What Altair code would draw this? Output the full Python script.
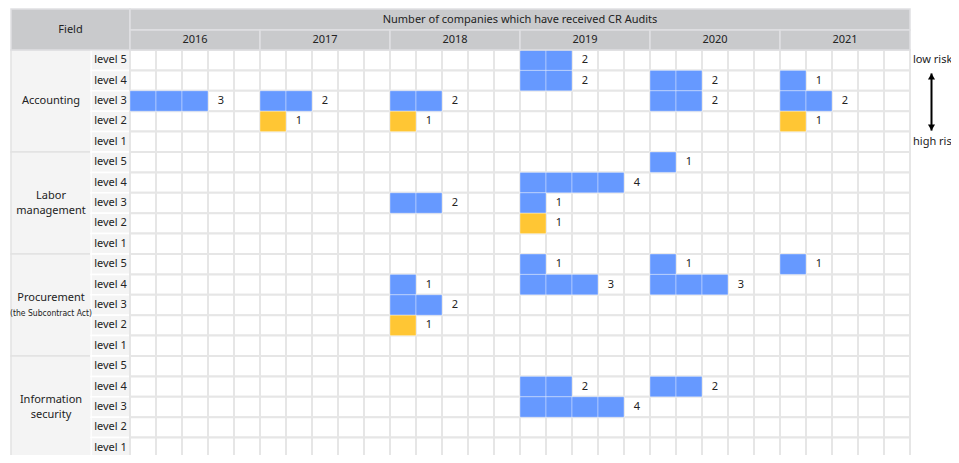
import altair as alt
import pandas as pd

# ---------------- data ----------------
YEARS = ["2016", "2017", "2018", "2019", "2020", "2021"]
LEVELS = ["level 5", "level 4", "level 3", "level 2", "level 1"]
FIELD_LINES = [
    ["Accounting"],
    ["Labor", "management"],
    ["Procurement", "(the Subcontract Act)"],
    ["Information", "security"],
]
HEADER_TITLE = "Number of companies which have received CR Audits"
FIELD_HEADER = "Field"
RISK_LABELS = ["low risk", "high risuk"]

# counts per level (rows: level 5 .. level 1) and year (cols: 2016 .. 2021)
ACCOUNTING = [
    [0, 0, 0, 2, 0, 0],
    [0, 0, 0, 2, 2, 1],
    [3, 2, 2, 0, 2, 2],
    [0, 1, 1, 0, 0, 1],
    [0, 0, 0, 0, 0, 0],
]
LABOR = [
    [0, 0, 0, 0, 1, 0],
    [0, 0, 0, 4, 0, 0],
    [0, 0, 2, 1, 0, 0],
    [0, 0, 0, 1, 0, 0],
    [0, 0, 0, 0, 0, 0],
]
PROCUREMENT = [
    [0, 0, 0, 1, 1, 1],
    [0, 0, 1, 3, 3, 0],
    [0, 0, 2, 0, 0, 0],
    [0, 0, 1, 0, 0, 0],
    [0, 0, 0, 0, 0, 0],
]
INFOSEC = [
    [0, 0, 0, 0, 0, 0],
    [0, 0, 0, 2, 2, 0],
    [0, 0, 0, 4, 0, 0],
    [0, 0, 0, 0, 0, 0],
    [0, 0, 0, 0, 0, 0],
]
FIELD_COUNTS = [ACCOUNTING, LABOR, PROCUREMENT, INFOSEC]

# ---------------- layout ----------------
SLOTS = 5                 # cells per year
COL_PX, ROW_PX = 26.0, 20.4
GRID_LEFT, GRID_TOP = 130.0, 50.0  # page px of grid origin
W, H = 943, 447
X_DOMAIN = [(8 - GRID_LEFT) / COL_PX, (8 + W - GRID_LEFT) / COL_PX]
Y_DOMAIN = [(8 - GRID_TOP) / ROW_PX, (8 + H - GRID_TOP) / ROW_PX]
FIELD_X0 = (11 - GRID_LEFT) / COL_PX
FIELD_X1 = -1.5
HEADER_TOP = (9 - GRID_TOP) / ROW_PX
HEADER_MID = (30 - GRID_TOP) / ROW_PX
NCOLS = SLOTS * len(YEARS)
NROWS = len(LEVELS) * len(FIELD_LINES)
LINE_GAP = 15.0 / ROW_PX
RISK_X = (913 - GRID_LEFT) / COL_PX
ARROW_X = (931.5 - GRID_LEFT) / COL_PX

BLUE, YELLOW = "#6699ff", "#ffc634"
HEAD_BG, SIDE_BG, GRID_LINE = "#c9cacc", "#f4f4f4", "#e6e6e6"
FONT = "Noto Sans"
SMALL_FONT = "DejaVu Sans Condensed, Liberation Sans Narrow, Noto Sans"
TXT = "#222222"

xs = alt.Scale(domain=X_DOMAIN, nice=False, zero=False)
ys = alt.Scale(domain=Y_DOMAIN, nice=False, zero=False, reverse=True)


def X(f):
    return alt.X(f, type="quantitative", scale=xs, axis=None)


def Y(f):
    return alt.Y(f, type="quantitative", scale=ys, axis=None)


def rect_enc():
    return dict(x=X("x"), x2=alt.X2("x2"), y=Y("y"), y2=alt.Y2("y2"))


# grid cells
grid_df = pd.DataFrame([
    dict(x=c, x2=c + 1, y=r, y2=r + 1) for r in range(NROWS) for c in range(NCOLS)
])

# field background blocks
field_bg = pd.DataFrame([
    dict(x=FIELD_X0, x2=FIELD_X1, y=i * 5, y2=i * 5 + 5) for i in range(len(FIELD_LINES))
])
# field label lines
field_txt = []
for i, lines in enumerate(FIELD_LINES):
    n = len(lines)
    for j, t in enumerate(lines):
        field_txt.append(dict(x=(FIELD_X0 + FIELD_X1) / 2,
                              y=i * 5 + 2.5 + (j - (n - 1) / 2) * LINE_GAP,
                              label=t, small=(j == 1 and t.startswith("("))))
field_txt = pd.DataFrame(field_txt)

# level column
level_df = pd.DataFrame([
    dict(x=FIELD_X1, x2=0, y=r, y2=r + 1, xm=FIELD_X1 / 2, ym=r + 0.5,
         label=LEVELS[r % len(LEVELS)]) for r in range(NROWS)
])

# filled cells and count labels
cells, counts = [], []
for fi, mat in enumerate(FIELD_COUNTS):
    for li, row in enumerate(mat):
        r = fi * len(LEVELS) + li
        tone = "low" if li >= 3 else "high"
        for yi, c in enumerate(row):
            if c <= 0:
                continue
            for k in range(c):
                cells.append(dict(x=yi * SLOTS + k, x2=yi * SLOTS + k + 1,
                                  y=r, y2=r + 1, tone=tone))
            counts.append(dict(x=yi * SLOTS + c + 0.5, y=r + 0.5, label=str(c)))
cells = pd.DataFrame(cells)
counts = pd.DataFrame(counts)

# header
head_rects = [dict(x=FIELD_X0, x2=0, y=HEADER_TOP, y2=0, xm=FIELD_X0 / 2,
                   ym=HEADER_TOP / 2, label=FIELD_HEADER),
              dict(x=0, x2=NCOLS, y=HEADER_TOP, y2=HEADER_MID, xm=NCOLS / 2,
                   ym=(HEADER_TOP + HEADER_MID) / 2, label=HEADER_TITLE)]
for yi, yr in enumerate(YEARS):
    head_rects.append(dict(x=yi * SLOTS, x2=(yi + 1) * SLOTS, y=HEADER_MID, y2=0,
                           xm=yi * SLOTS + SLOTS / 2, ym=HEADER_MID / 2, label=yr))
head_df = pd.DataFrame(head_rects)

risk_df = pd.DataFrame([dict(x=RISK_X, y=0.5, label=RISK_LABELS[0]),
                        dict(x=RISK_X, y=len(LEVELS) - 0.5, label=RISK_LABELS[1])])
arrow_line = pd.DataFrame([dict(x=ARROW_X, y=1.15, y2=3.95)])
arrow_heads = pd.DataFrame([dict(x=ARROW_X, y=1.3, shape="triangle-up"),
                            dict(x=ARROW_X, y=3.8, shape="triangle-down")])

layers = [
    alt.Chart(field_bg).mark_rect(fill=SIDE_BG, stroke="#e2e2e2", strokeWidth=1.5)
    .encode(**rect_enc()),
    alt.Chart(level_df).mark_rect(fill=SIDE_BG, stroke="#ffffff", strokeWidth=1.5)
    .encode(**rect_enc()),
    alt.Chart(grid_df).mark_rect(fill="#ffffff", stroke=GRID_LINE, strokeWidth=2)
    .encode(**rect_enc()),
    alt.Chart(cells).mark_rect(stroke="#ffffff", strokeOpacity=0.35, strokeWidth=1)
    .encode(**rect_enc(),
            color=alt.Color("tone:N", scale=alt.Scale(domain=["high", "low"],
                                                      range=[BLUE, YELLOW]), legend=None)),
    alt.Chart(head_df).mark_rect(fill=HEAD_BG, stroke="#dfe0e2", strokeWidth=1.5)
    .encode(**rect_enc()),
    alt.Chart(head_df).mark_text(font=FONT, fontSize=11, color=TXT)
    .encode(x=X("xm"), y=Y("ym"), text="label:N"),
    alt.Chart(level_df).mark_text(font=FONT, fontSize=11, color=TXT)
    .encode(x=X("xm"), y=Y("ym"), text="label:N"),
    alt.Chart(field_txt[~field_txt["small"]]).mark_text(font=FONT, fontSize=11, color=TXT)
    .encode(x=X("x"), y=Y("y"), text="label:N"),
    alt.Chart(field_txt[field_txt["small"]]).mark_text(
        font=SMALL_FONT, fontSize=8.5, color=TXT)
    .encode(x=X("x"), y=Y("y"), text="label:N"),
    alt.Chart(counts).mark_text(font=FONT, fontSize=11, color=TXT)
    .encode(x=X("x"), y=Y("y"), text="label:N"),
    alt.Chart(risk_df).mark_text(font=FONT, fontSize=11, color=TXT, align="left")
    .encode(x=X("x"), y=Y("y"), text="label:N"),
    alt.Chart(arrow_line).mark_rule(color="#000000", strokeWidth=2)
    .encode(x=X("x"), y=Y("y"), y2=alt.Y2("y2")),
    alt.Chart(arrow_heads).mark_point(filled=True, color="#000000", size=50, opacity=1)
    .encode(x=X("x"), y=Y("y"),
            shape=alt.Shape("shape:N", scale=None, legend=None)),
]

chart = alt.layer(*layers).properties(
    width=W, height=H, autosize=alt.AutoSizeParams(type="none"), padding=0,
    background="#ffffff",
).configure_view(stroke=None)

chart.save("out.html", embed_options={"renderer": "svg", "actions": False})
